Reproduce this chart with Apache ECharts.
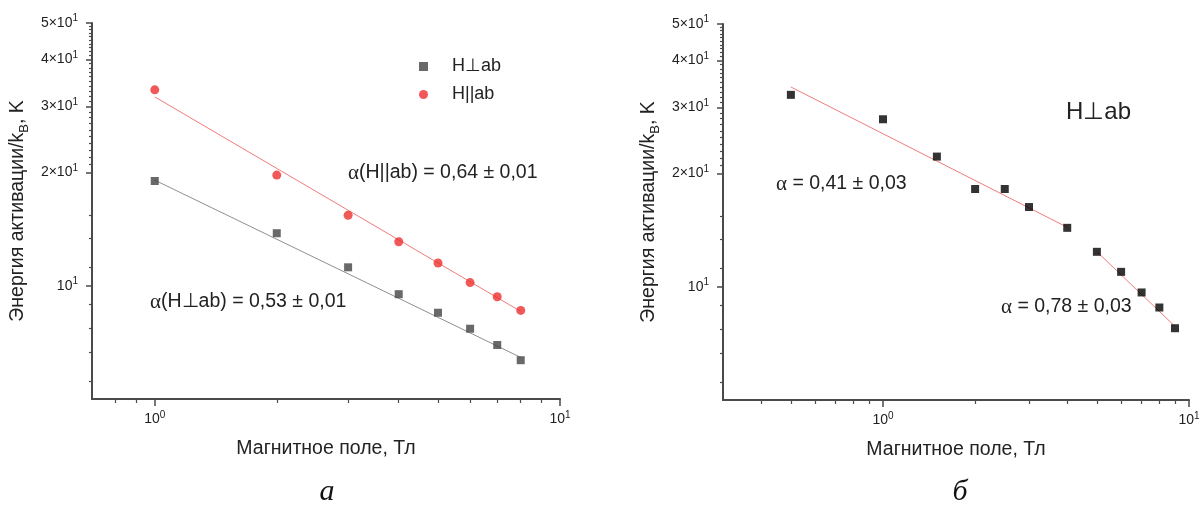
<!DOCTYPE html>
<html><head><meta charset="utf-8">
<script src="https://cdn.jsdelivr.net/npm/echarts@6/dist/echarts.min.js"></script>
<style>html,body{margin:0;padding:0;background:#fff}#c{width:1203px;height:506px}</style>
</head><body><div id="c"></div>
<script>
// ---- Panel а : activation energy vs field, two orientations ----
const fieldA = [1, 2, 3, 4, 5, 6, 7, 8];
const perpA  = [19.0, 13.8, 11.2, 9.5, 8.48, 7.69, 6.96, 6.34];   // H⊥ab
const parA   = [33.2, 19.7, 15.4, 13.1, 11.5, 10.2, 9.35, 8.6];   // H||ab
const perpFitA = [[1, 19.1], [8, 6.45]];
const parFitA  = [[1, 31.8], [8, 8.55]];

// ---- Panel б : H⊥ab only ----
const fieldB = [0.5, 1, 1.5, 2, 2.5, 3, 4, 5, 6, 7, 8, 9];
const perpB  = [32.4, 27.9, 22.2, 18.2, 18.2, 16.3, 14.35, 12.39, 10.96, 9.66, 8.81, 7.76];
const fitB1 = [[0.5, 34.0], [4, 14.4]];
const fitB2 = [[5, 12.4], [9, 7.85]];

// ---- ticks ----
const yMajor = [10, 20, 30, 40, 50];
const yMinor = [5.56, 6.67, 7.73, 8.95, 11.2, 13.4, 15.45,
  21, 22, 23, 24, 25, 26, 27, 28, 29, 31, 32, 33, 34, 35, 36, 37, 38, 39,
  41, 42, 43, 44, 45, 46, 47, 48, 49];
const xMajor = [1, 10];
const xMinorA = [0.8, 0.9, 2, 3, 4, 5, 6, 7, 8, 9];
const xMinorB = [0.4, 0.5, 0.6, 0.7, 0.8, 0.9, 2, 3, 4, 5, 6, 7, 8, 9];

const xName = 'Магнитное поле, Тл';
const yName = 'Энергия активации/k{sub|B}, K';

const SANS = 'Liberation Sans, Arial, sans-serif';
const SERIF = 'Liberation Serif, Times New Roman, serif';
const AX = '#4a4a4a';

const xFmt = v => '{b|10}{s|' + Math.round(Math.log10(v)) + '}';
const yFmt = v => { const m = Math.round(v / 10); return m === 1 ? '{b|10}{s|1}' : '{b|' + m + '×10}{s|1}'; };

function labelRich(size) {
  return {
    b: {fontFamily: SANS, fontSize: size, color: '#222', lineHeight: size + 5},
    s: {fontFamily: SANS, fontSize: Math.round(size * 0.68), color: '#222', verticalAlign: 'top', lineHeight: Math.round(size * 0.75)}
  };
}

function xMajorAxis(grid, min, name) {
  return {
    type: 'log', gridIndex: grid, min: min, max: 10, position: 'bottom',
    name: name, nameLocation: 'middle', nameGap: 40,
    nameTextStyle: {fontFamily: SANS, fontSize: 19.5, color: '#222'},
    axisLine: {show: true, onZero: false, lineStyle: {color: AX, width: 2}},
    axisTick: {show: true, inside: false, length: 7, lineStyle: {color: AX, width: 1.5}, customValues: xMajor},
    axisLabel: {show: true, margin: 11, color: '#222', customValues: xMajor, formatter: xFmt, rich: labelRich(14)},
    splitLine: {show: false}, minorTick: {show: false}, minorSplitLine: {show: false}
  };
}
function xMinorAxis(grid, min, vals) {
  return {
    type: 'log', gridIndex: grid, min: min, max: 10, position: 'bottom',
    axisLine: {show: false, onZero: false},
    axisTick: {show: true, inside: false, length: 4, lineStyle: {color: AX, width: 1.2}, customValues: vals},
    axisLabel: {show: false}, splitLine: {show: false}
  };
}
function yMajorAxis(grid) {
  return {
    type: 'log', gridIndex: grid, min: 5, max: 50, position: 'left',
    name: yName, nameLocation: 'middle', nameGap: 61, nameRotate: 90,
    nameTextStyle: {fontFamily: SANS, fontSize: 19.5, color: '#222', lineHeight: 26,
      rich: {sub: {fontFamily: SANS, fontSize: 13, color: '#222', verticalAlign: 'bottom', lineHeight: 26}}},
    axisLine: {show: true, onZero: false, lineStyle: {color: AX, width: 2}},
    axisTick: {show: true, inside: false, length: 6, lineStyle: {color: AX, width: 1.5}, customValues: yMajor},
    axisLabel: {show: true, margin: 14, color: '#222', customValues: yMajor, formatter: yFmt, rich: labelRich(14)},
    splitLine: {show: false}, minorTick: {show: false}, minorSplitLine: {show: false}
  };
}
function yMinorAxis(grid) {
  return {
    type: 'log', gridIndex: grid, min: 5, max: 50, position: 'left',
    axisLine: {show: false, onZero: false},
    axisTick: {show: true, inside: false, length: 3, lineStyle: {color: AX, width: 1.2}, customValues: yMinor},
    axisLabel: {show: false}, splitLine: {show: false}
  };
}

const zip = (xs, ys) => xs.map((x, i) => [x, ys[i]]);

function fitLine(data, color, xi) {
  return {type: 'line', data: data, xAxisIndex: xi, yAxisIndex: xi, symbol: 'none', silent: true,
    lineStyle: {color: color, width: 1}, z: 1, animation: false};
}

const alphaRich = {
  a: {fontFamily: SERIF, fontSize: 21, fill: '#222'},
  t: {fontFamily: SANS, fontSize: 19.5, fill: '#222'}
};
function note(text, x, y) {
  return {type: 'text', x: x, y: y, style: {text: text, rich: alphaRich, fill: '#222',
    textVerticalAlign: 'middle', verticalAlign: 'middle'}};
}

const option = {
  backgroundColor: '#fff',
  animation: false,
  grid: [
    {left: 92, top: 23, width: 468, height: 376, outerBoundsMode: 'none', containLabel: false},
    {left: 723, top: 24, width: 466, height: 376, outerBoundsMode: 'none', containLabel: false}
  ],
  xAxis: [xMajorAxis(0, 0.7, xName), xMinorAxis(0, 0.7, xMinorA), xMajorAxis(1, 0.3, xName), xMinorAxis(1, 0.3, xMinorB)],
  yAxis: [yMajorAxis(0), yMinorAxis(0), yMajorAxis(1), yMinorAxis(1)],
  legend: {
    show: true, orient: 'vertical', left: 414, top: 52,
    itemWidth: 9, itemHeight: 9, itemGap: 9,
    textStyle: {fontFamily: SANS, fontSize: 18, color: '#222', padding: [0, 0, 0, 19], lineHeight: 19},
    data: [{name: 'H⊥ab', icon: 'rect'}, {name: 'H||ab', icon: 'circle'}],
    selectedMode: false
  },
  series: [
    fitLine(perpFitA, '#8f8f8f', 0),
    fitLine(parFitA, '#f27b7b', 0),
    {name: 'H⊥ab', type: 'scatter', xAxisIndex: 0, yAxisIndex: 0, data: zip(fieldA, perpA),
      symbol: 'rect', symbolSize: 8, itemStyle: {color: '#444'}, z: 3},
    {name: 'H||ab', type: 'scatter', xAxisIndex: 0, yAxisIndex: 0, data: zip(fieldA, parA),
      symbol: 'circle', symbolSize: 9, itemStyle: {color: '#ee2e2e'}, z: 3},
    fitLine(fitB1, '#f27b7b', 2),
    fitLine(fitB2, '#f27b7b', 2),
    {name: 'H⊥ab б', type: 'scatter', xAxisIndex: 2, yAxisIndex: 2, data: zip(fieldB, perpB),
      symbol: 'rect', symbolSize: 8, itemStyle: {color: '#000'}, z: 3}
  ],
  graphic: [
    note('{a|α}{t|(H||ab) = 0,64 ± 0,01}', 348, 173),
    note('{a|α}{t|(H⊥ab) = 0,53 ± 0,01}', 150, 302),
    note('{a|α}{t| = 0,41 ± 0,03}', 776, 184),
    note('{a|α}{t| = 0,78 ± 0,03}', 1001, 307),
    {type: 'text', x: 1066, y: 112, style: {text: 'H⊥ab', fontFamily: SANS, fontSize: 24, fill: '#222', verticalAlign: 'middle'}},
    {type: 'text', x: 327, y: 492, style: {text: 'а', fontFamily: SERIF, fontStyle: 'italic', fontSize: 30, fill: '#111', align: 'center', verticalAlign: 'middle'}},
    {type: 'text', x: 960, y: 492, style: {text: 'б', fontFamily: SERIF, fontStyle: 'italic', fontSize: 30, fill: '#111', align: 'center', verticalAlign: 'middle'}}
  ]
};

const chart = echarts.init(document.getElementById('c'), null, {renderer: 'canvas'});
chart.setOption(option);
</script>
</body></html>
